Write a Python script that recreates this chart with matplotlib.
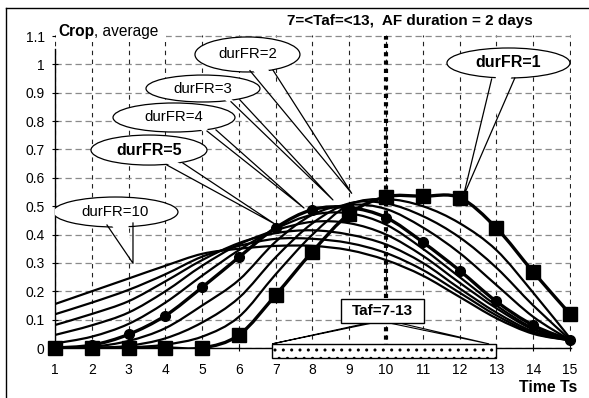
import numpy as np
import matplotlib.pyplot as plt
from matplotlib.path import Path
from matplotlib.patches import PathPatch, Ellipse, Polygon, Rectangle
from matplotlib.lines import Line2D

plt.rcParams['font.family'] = ['Liberation Sans', 'DejaVu Sans']

# data
time_ts = [1, 2, 3, 4, 5, 6, 7, 8, 9, 10, 11, 12, 13, 14, 15]
crop_dur1 = [0, 0, 0, 0, 0, 0.046, 0.187, 0.34, 0.473, 0.533, 0.535, 0.53, 0.423, 0.268, 0.12]
crop_dur2 = [0, 0, 0.002, 0.012, 0.04, 0.11, 0.26, 0.40, 0.505, 0.525, 0.50, 0.44, 0.345, 0.195, 0.035]
crop_dur3 = [0, 0, 0.008, 0.034, 0.09, 0.177, 0.32, 0.44, 0.51, 0.51, 0.465, 0.39, 0.283, 0.15, 0.03]
crop_dur4 = [0, 0.004, 0.025, 0.07, 0.15, 0.24, 0.375, 0.47, 0.505, 0.49, 0.425, 0.335, 0.222, 0.11, 0.028]
crop_dur5 = [0, 0.01, 0.048, 0.114, 0.214, 0.32, 0.424, 0.488, 0.495, 0.46, 0.373, 0.273, 0.164, 0.08, 0.028]
crop_dur6 = [0.016, 0.04, 0.085, 0.16, 0.255, 0.345, 0.42, 0.47, 0.475, 0.435, 0.35, 0.25, 0.15, 0.07, 0.028]
crop_dur7 = [0.046, 0.08, 0.125, 0.2, 0.29, 0.365, 0.415, 0.445, 0.44, 0.40, 0.325, 0.23, 0.14, 0.065, 0.028]
crop_dur8 = [0.081, 0.12, 0.165, 0.235, 0.31, 0.37, 0.405, 0.415, 0.40, 0.365, 0.30, 0.21, 0.125, 0.058, 0.027]
crop_dur9 = [0.119, 0.16, 0.205, 0.26, 0.322, 0.36, 0.385, 0.385, 0.37, 0.335, 0.275, 0.195, 0.115, 0.053, 0.027]
crop_dur10 = [0.155, 0.20, 0.245, 0.29, 0.332, 0.35, 0.36, 0.36, 0.345, 0.31, 0.255, 0.18, 0.105, 0.05, 0.027]

thin_curves = [crop_dur10, crop_dur9, crop_dur8, crop_dur7, crop_dur6, crop_dur4, crop_dur3, crop_dur2]

yticks = [0, 0.1, 0.2, 0.3, 0.4, 0.5, 0.6, 0.7, 0.8, 0.9, 1.0, 1.1]
ytick_labels = ['0', '0.1', '0.2', '0.3', '0.4', '0.5', '0.6', '0.7', '0.8', '0.9', '1', '1.1']

taf_start, taf_end = 6.9, 13
af_day = 10


def smooth_path(x, y):
    # excel-like smoothed line: catmull-rom turned into bezier segments
    pts = np.column_stack([x, y]).astype(float)
    n = len(pts)
    verts = [pts[0]]
    codes = [Path.MOVETO]
    for i in range(n - 1):
        p0 = pts[max(i - 1, 0)]
        p1 = pts[i]
        p2 = pts[i + 1]
        p3 = pts[min(i + 2, n - 1)]
        verts += [p1 + (p2 - p0) / 6, p2 - (p3 - p1) / 6, p2]
        codes += [Path.CURVE4] * 3
    return Path(verts, codes)


def callout(ax, cx, cy, w, h, b1, b2, tip, text, bold=False):
    ax.add_patch(Ellipse((cx, cy), w, h, facecolor='white', edgecolor='black', lw=0.9, zorder=6))
    b1i = (b1[0] + 0.3 * (cx - b1[0]), b1[1] + 0.3 * (cy - b1[1]))
    b2i = (b2[0] + 0.3 * (cx - b2[0]), b2[1] + 0.3 * (cy - b2[1]))
    ax.add_patch(Polygon([b1i, tip, b2i], closed=True, facecolor='white', edgecolor='none', zorder=6))
    ax.add_line(Line2D([b1[0], tip[0], b2[0]], [b1[1], tip[1], b2[1]], color='black', lw=0.9, zorder=6))
    ax.text(cx, cy, text, ha='center', va='center', fontsize=11.5 if bold else 10.8,
            fontweight='bold' if bold else 'normal', zorder=7)


fig = plt.figure(figsize=(5.89, 3.98), dpi=100)
ax = fig.add_axes([55 / 589, 1 - 348 / 398, 516.1 / 589, 312.8 / 398])
ax.set_xlim(1, 15.03)
ax.set_ylim(0, 1.103)

ax.spines['top'].set_visible(False)
ax.spines['right'].set_visible(False)
ax.spines['left'].set_bounds(0, 1.054)
ax.spines['left'].set_linewidth(1.0)
ax.spines['bottom'].set_linewidth(1.0)

ax.set_xticks(time_ts)
ax.set_xticklabels([str(t) for t in time_ts])
ax.set_yticks(yticks)
ax.set_yticklabels(ytick_labels)
ax.tick_params(axis='x', direction='inout', length=5, width=0.8, pad=8, labelsize=10)
ax.tick_params(axis='y', direction='inout', length=5, width=0.8, pad=5, labelsize=10)

ax.yaxis.grid(True, color='#8a8a8a', ls=(0, (5, 3)), lw=0.9)
ax.xaxis.grid(True, color='#222222', ls=(0, (4, 4)), lw=0.8)
ax.set_axisbelow(True)

# curves
for c in thin_curves:
    ax.add_patch(PathPatch(smooth_path(time_ts, c), fill=False, edgecolor='black', lw=1.6, zorder=2))

ax.plot([af_day, af_day], [0, 1.1], color='black', lw=3, ls=(0, (1, 1)), zorder=3)

ax.add_patch(PathPatch(smooth_path(time_ts, crop_dur5), fill=False, edgecolor='black', lw=2.4, zorder=4))
ax.plot(time_ts, crop_dur5, 'o', color='black', ms=7, zorder=4, clip_on=False)
ax.add_patch(PathPatch(smooth_path(time_ts, crop_dur1), fill=False, edgecolor='black', lw=2.4, zorder=4))
ax.plot(time_ts, crop_dur1, 's', color='black', ms=10.5, zorder=4, clip_on=False)

# Taf bar under the axis
ax.add_patch(Rectangle((taf_start, -0.036), taf_end - taf_start, 0.05, facecolor='white',
                       edgecolor='black', hatch='..', lw=1, zorder=5, clip_on=False))

# Taf label box with pointers
ax.add_patch(Polygon([(9.56, 0.09), (6.9, 0.0145), (9.70, 0.09)], closed=True,
                     facecolor='white', edgecolor='black', lw=0.8, zorder=6))
ax.add_patch(Polygon([(10.02, 0.09), (12.8, 0.0145), (10.30, 0.09)], closed=True,
                     facecolor='white', edgecolor='black', lw=0.8, zorder=6))
ax.add_patch(Rectangle((8.765, 0.0871), 2.265, 0.0857, facecolor='white', edgecolor='black', lw=1, zorder=7))
ax.text(9.9, 0.13, 'Taf=7-13', ha='center', va='center', fontsize=11, fontweight='bold', zorder=8)

# callouts
callout(ax, 6.232, 1.035, 2.854, 0.1234, (6.30, 0.978), (6.925, 0.980), (9.065, 0.5455), 'durFR=2')
callout(ax, 5.023, 0.915, 3.099, 0.095, (5.784, 0.8685), (6.029, 0.8745), (8.556, 0.522), 'durFR=3')
callout(ax, 4.235, 0.8128, 3.316, 0.1023, (5.132, 0.765), (5.376, 0.769), (7.768, 0.4937), 'durFR=4')
callout(ax, 3.555, 0.698, 3.153, 0.1058, (4.044, 0.645), (4.479, 0.652), (6.98, 0.437), 'durFR=5', bold=True)
callout(ax, 2.644, 0.4795, 3.398, 0.1058, (2.413, 0.4337), (3.12, 0.4408), (3.12, 0.2987), 'durFR=10')
callout(ax, 13.327, 1.005, 3.343, 0.1058, (12.87, 0.9485), (13.50, 0.952), (12.098, 0.5335), 'durFR=1', bold=True)

# texts
fig.text(287 / 589, 1 - 25 / 398, '7=<Taf=<13,  AF duration = 2 days', fontsize=11, fontweight='bold',
         ha='left', va='baseline')
# white patch behind the y-axis caption so the grid and spine stop under it
ax.add_patch(Rectangle((56 / 589, 1 - 42 / 398), 110 / 589, 22 / 398, transform=fig.transFigure,
                       facecolor='white', edgecolor='none', zorder=9, clip_on=False))
t1 = ax.text(58 / 589, 1 - 36 / 398, 'Crop', transform=fig.transFigure, fontsize=11.2, fontweight='bold',
             ha='left', va='baseline', zorder=10, clip_on=False)
ax.annotate(', average', xy=(1, 0), xycoords=t1, fontsize=11.2, ha='left', va='bottom',
            zorder=10, annotation_clip=False)
fig.text(577 / 589, 1 - 392 / 398, 'Time Ts', fontsize=11.4, fontweight='bold', ha='right', va='baseline')

# outer frame (only top and left visible)
fig.add_artist(Line2D([6 / 589, 1], [1 - 7.5 / 398, 1 - 7.5 / 398], transform=fig.transFigure, color='black', lw=1))
fig.add_artist(Line2D([6 / 589, 6 / 589], [0, 1 - 7.5 / 398], transform=fig.transFigure, color='black', lw=1))

fig.savefig('out.png', dpi=100)
